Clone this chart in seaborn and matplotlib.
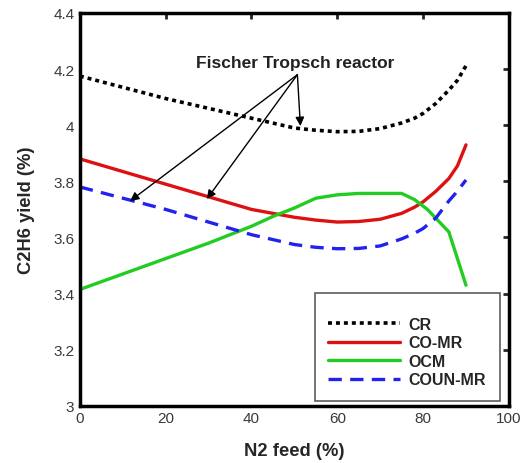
import matplotlib
matplotlib.use("Agg")
import matplotlib.pyplot as plt
import seaborn as sns

# N2 feed (%) sample points
n2_feed = [0, 10, 20, 30, 40, 50, 55, 60, 65, 70, 75, 78, 80, 83, 86, 88, 90]

# C2H6 yield (%) for each reactor configuration
cr = [4.175, 4.135, 4.095, 4.06, 4.025, 3.99, 3.982, 3.977, 3.978, 3.988,
      4.008, 4.025, 4.042, 4.078, 4.125, 4.16, 4.212]
co_mr = [3.88, 3.835, 3.79, 3.745, 3.70, 3.672, 3.662, 3.655, 3.657, 3.665,
         3.686, 3.708, 3.727, 3.765, 3.81, 3.855, 3.93]
coun_mr = [3.78, 3.74, 3.70, 3.655, 3.61, 3.575, 3.565, 3.56, 3.561, 3.57,
           3.595, 3.615, 3.632, 3.67, 3.73, 3.765, 3.805]
ocm_x = [0, 10, 20, 30, 40, 45, 50, 55, 60, 65, 70, 75, 78, 81, 86, 90]
ocm = [3.415, 3.47, 3.525, 3.58, 3.64, 3.675, 3.705, 3.74, 3.752, 3.757,
       3.757, 3.757, 3.735, 3.70, 3.62, 3.43]

series_names = ["CR", "CO-MR", "OCM", "COUN-MR"]
x_ticks = [0, 20, 40, 60, 80, 100]
y_ticks = [3.0, 3.2, 3.4, 3.6, 3.8, 4.0, 4.2, 4.4]
y_tick_labels = ["3", "3.2", "3.4", "3.6", "3.8", "4", "4.2", "4.4"]

sns.set_style("white")
plt.rcParams["font.family"] = ["Liberation Sans", "DejaVu Sans"]

fig = plt.figure(figsize=(5.29, 4.64), dpi=100)
ax = fig.add_axes([0.151, 0.123, 0.811, 0.847])

sns.lineplot(x=n2_feed, y=cr, ax=ax, color="black", lw=2.6,
             linestyle=(0, (1.1, 1.1)), label=series_names[0])
sns.lineplot(x=n2_feed, y=co_mr, ax=ax, color="#dd1111", lw=2.4,
             label=series_names[1])
sns.lineplot(x=ocm_x, y=ocm, ax=ax, color="#22cc22", lw=2.4,
             label=series_names[2])
sns.lineplot(x=n2_feed, y=coun_mr, ax=ax, color="#2222ee", lw=2.4,
             linestyle=(0, (4, 2.5)), label=series_names[3])

ax.set_xlim(0, 100)
ax.set_ylim(3.0, 4.4)
ax.set_xticks(x_ticks)
ax.set_xticklabels([str(t) for t in x_ticks])
ax.set_yticks(y_ticks)
ax.set_yticklabels(y_tick_labels)
ax.tick_params(direction="in", length=4, width=2, top=True, right=True,
               labelsize=11, labelcolor="#3a3a3a", pad=4)
for s in ax.spines.values():
    s.set_linewidth(2.5)
    s.set_color("black")

ax.set_xlabel("N2 feed (%)", fontsize=13.2, fontweight="bold", labelpad=12)
ax.set_ylabel("C2H6 yield (%)", fontsize=13.2, fontweight="bold", labelpad=13)

# Arrows pointing out the Fischer Tropsch reactor curves
ax.text(50.2, 4.225, "Fischer Tropsch reactor", ha="center", va="center",
        fontsize=12.5, fontweight="bold", color="#222222")
origin = (50.7, 4.18)
for tgt in [(11.7, 3.73), (29.6, 3.737), (51.4, 3.997)]:
    ax.annotate("", xy=tgt, xytext=origin,
                arrowprops=dict(arrowstyle="-|>", color="black", lw=1.0,
                                mutation_scale=13, shrinkA=0, shrinkB=0))

leg = ax.legend(loc="lower right", bbox_to_anchor=(0.979, 0.013),
                frameon=True, fancybox=False,
                prop={"weight": "bold", "size": 11.5}, handlelength=4.5,
                borderpad=0.85, labelspacing=0.22, handletextpad=0.55,
                borderaxespad=0.0, title=" ", title_fontsize=5)
leg.get_frame().set_edgecolor("#333333")
leg.get_frame().set_linewidth(1.2)

fig.savefig("out.png", dpi=100)
